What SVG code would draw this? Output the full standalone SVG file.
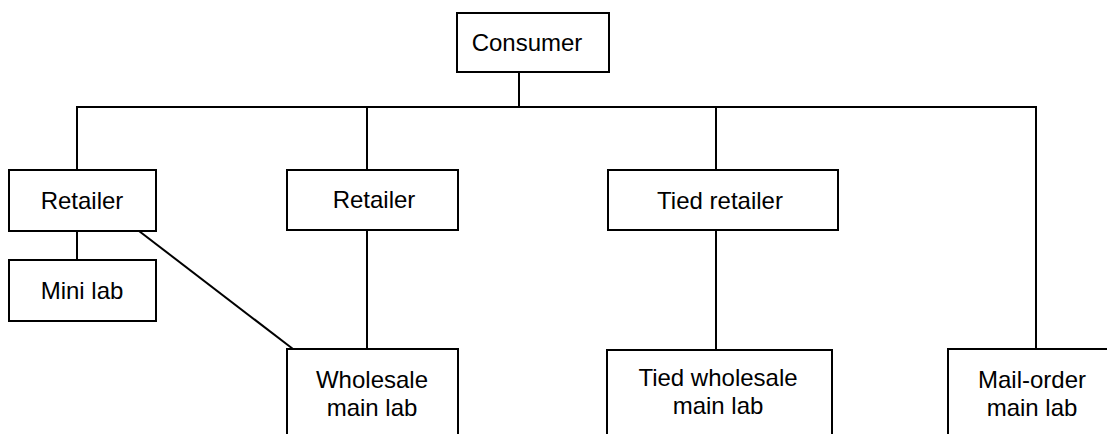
<svg xmlns="http://www.w3.org/2000/svg" width="1107" height="434" viewBox="0 0 1107 434">
  <style>
    .box { fill: #fff; stroke: #000; stroke-width: 2; }
    .conn { fill: none; stroke: #000; stroke-width: 2; }
    .lbl { font-family: "Liberation Sans", Arial, sans-serif; font-size: 24px; fill: #000; text-anchor: middle; }
  </style>
  <rect width="1107" height="434" fill="#fff"/>

  <!-- connectors -->
  <g id="connectors">
    <line class="conn" x1="519" y1="72" x2="519" y2="107"/>
    <polyline class="conn" points="77,170 77,107 1036,107 1036,349"/>
    <line class="conn" x1="367" y1="107" x2="367" y2="170"/>
    <line class="conn" x1="716" y1="107" x2="716" y2="170"/>
    <line class="conn" x1="77" y1="231" x2="77" y2="260"/>
    <line class="conn" x1="139" y1="231" x2="293" y2="349"/>
    <line class="conn" x1="367" y1="230" x2="367" y2="349"/>
    <line class="conn" x1="716" y1="230" x2="716" y2="350"/>
  </g>

  <g id="consumer">
    <rect class="box" x="457" y="13" width="152" height="59"/>
    <text class="lbl" x="527" y="51">Consumer</text>
  </g>

  <g id="retailer-1">
    <rect class="box" x="9" y="170" width="147" height="61"/>
    <text class="lbl" x="82" y="209">Retailer</text>
  </g>

  <g id="mini-lab">
    <rect class="box" x="9" y="260" width="147" height="61"/>
    <text class="lbl" x="82" y="299">Mini lab</text>
  </g>

  <g id="retailer-2">
    <rect class="box" x="287" y="170" width="171" height="60"/>
    <text class="lbl" x="374" y="208">Retailer</text>
  </g>

  <g id="tied-retailer">
    <rect class="box" x="608" y="170" width="230" height="60"/>
    <text class="lbl" x="720" y="209">Tied retailer</text>
  </g>

  <g id="wholesale-main-lab">
    <rect class="box" x="287" y="349" width="171" height="100"/>
    <text class="lbl" x="372" y="388">Wholesale</text>
    <text class="lbl" x="372" y="416">main lab</text>
  </g>

  <g id="tied-wholesale-main-lab">
    <rect class="box" x="607" y="350" width="225" height="100"/>
    <text class="lbl" x="718" y="386">Tied wholesale</text>
    <text class="lbl" x="718" y="414">main lab</text>
  </g>

  <g id="mail-order-main-lab">
    <rect class="box" x="948" y="349" width="180" height="100"/>
    <text class="lbl" x="1032" y="388">Mail-order</text>
    <text class="lbl" x="1032" y="416">main lab</text>
  </g>
</svg>
